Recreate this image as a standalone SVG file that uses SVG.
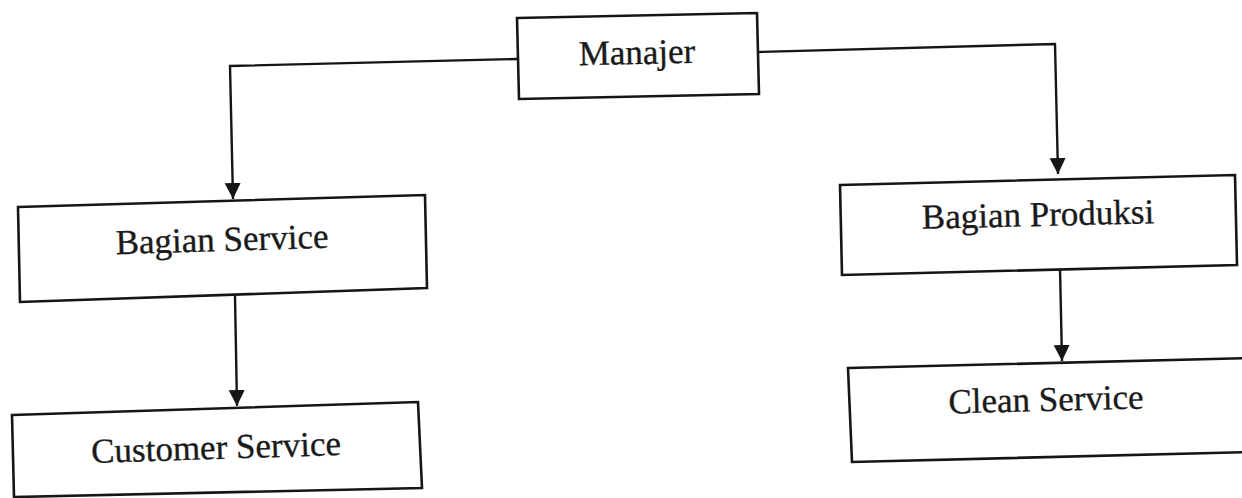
<svg xmlns="http://www.w3.org/2000/svg" width="1242" height="498" viewBox="0 0 1242 498">
  <defs>
    <marker id="arrow" markerUnits="userSpaceOnUse" markerWidth="18" markerHeight="18" refX="16" refY="8" orient="auto">
      <path d="M0,0 L16,8 L0,16 Z" fill="#151515"/>
    </marker>
  </defs>
  <style>
    .box { fill: #ffffff; stroke: #151515; stroke-width: 2.6; stroke-linejoin: miter; }
    .lbl { font-family: "Liberation Serif", "Times New Roman", serif; font-size: 35px; fill: #1a1a1a; stroke: #1a1a1a; stroke-width: 0.35; text-anchor: middle; }
    .conn { fill: none; stroke: #151515; stroke-width: 2.4; }
  </style>
  <rect x="0" y="0" width="1242" height="498" fill="#ffffff"/>
  <g id="connectors">
    <polyline class="conn" points="517,59 230,66 233,199" marker-end="url(#arrow)"/>
    <polyline class="conn" points="757,52 1055,44 1058,174" marker-end="url(#arrow)"/>
    <line class="conn" x1="235" y1="296" x2="237" y2="406" marker-end="url(#arrow)"/>
    <line class="conn" x1="1060" y1="268" x2="1062" y2="361" marker-end="url(#arrow)"/>
  </g>
  <g id="manajer">
    <polygon class="box" points="517,18 757,13 759,94 519,99"/>
    <text class="lbl" x="637" y="64" transform="rotate(-1.2 637 55)">Manajer</text>
  </g>
  <g id="bagian-service">
    <polygon class="box" points="18,207 425,195 427,288 20,302"/>
    <text class="lbl" x="222" y="251" transform="rotate(-1.7 222 240)">Bagian Service</text>
  </g>
  <g id="bagian-produksi">
    <polygon class="box" points="840,185 1235,175 1237,265 842,275"/>
    <text class="lbl" x="1038" y="226" transform="rotate(-1.4 1038 215)">Bagian Produksi</text>
  </g>
  <g id="customer-service">
    <polygon class="box" points="12,415 418,402 422,488 14,497"/>
    <text class="lbl" x="216" y="459" transform="rotate(-1.8 216 448)">Customer Service</text>
  </g>
  <g id="clean-service">
    <polygon class="box" points="848,368 1252,358 1254,452 852,462"/>
    <text class="lbl" x="1046" y="411" transform="rotate(-1.4 1046 400)">Clean Service</text>
  </g>
</svg>
